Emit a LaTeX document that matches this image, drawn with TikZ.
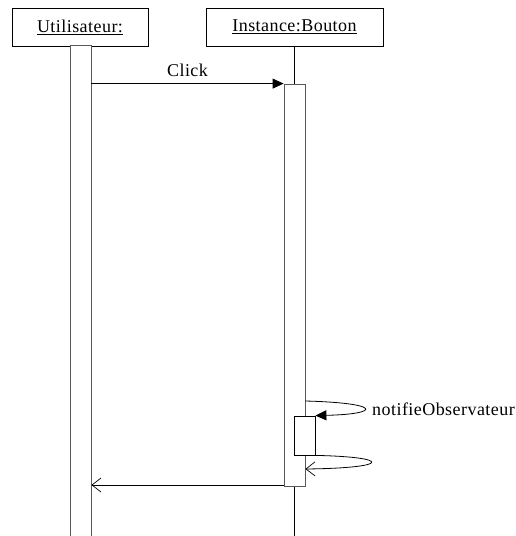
\documentclass[tikz,border=0pt]{standalone}
\usepackage{fontspec}
\setmainfont{Liberation Serif}[LetterSpace=2.5]
\usetikzlibrary{arrows.meta}
\begin{document}
\begin{tikzpicture}[x=1pt,y=-1pt,
  objbox/.style={draw=black,line width=0.8pt,minimum width=#1,minimum height=38pt,inner sep=0pt,font=\fontsize{18}{20}\selectfont},
  actbar/.style={draw=black!65,line width=0.8pt,fill=white,minimum width=21pt,inner sep=0pt},
  life/.style={draw=black,line width=1pt},
  msg/.style={draw=black,line width=0.8pt},
  lbl/.style={font=\fontsize{18}{20}\selectfont,inner sep=0pt},
  call/.style={-{Triangle[length=11pt,width=10pt]}},
  ret/.style={-{Straight Barb[length=9pt,width=14pt,line width=0.7pt]}}]
\useasboundingbox (0,0) rectangle (516,536);
% objects
\node[objbox=136pt] (u) at (80,27) {\underline{Utilisateur:}};
\node[objbox=177pt] (b) at (294.5,27) {\underline{Instance:Bouton}};
% lifelines
\coordinate (bend) at (294.5,536);
\draw[life] (b.south) -- (294.5,84);
\draw[life] (294.5,486) -- (bend);
% activation bars
\node[actbar,minimum height=492pt] (ua) at (80.5,291) {};
\node[actbar,minimum height=402pt] (ba) at (294.5,285) {};
\node[actbar,draw=black,minimum height=39pt,minimum width=21pt] (sa) at (304.5,435.5) {};
% messages
\draw[msg,call] (ua.east |- ba.north) -- node[lbl,above=7pt] (click) {Click} (ba.north west);
\coordinate (s1) at (ba.east |- 0,401);
\draw[msg,call] (s1) .. controls (382,403) and (382,414) .. (sa.north east);
\node[lbl,anchor=west] (nl) at (372,409) {notifieObservateur};
\coordinate (r1) at (ba.east |- 0,469);
\draw[msg,ret] (sa.south east) .. controls (392,457) and (392,468) .. (r1);
\draw[msg,ret] (ba.south west |- 0,485) -- (ua.east |- 0,485);
\end{tikzpicture}
\end{document}
